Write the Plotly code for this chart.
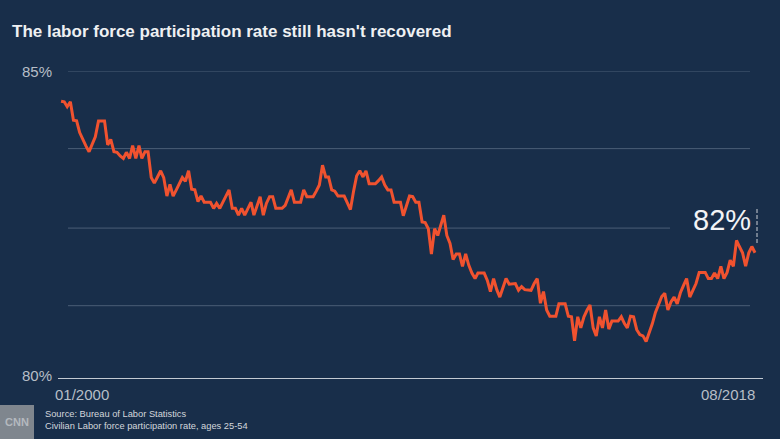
import plotly.graph_objects as go
import pandas as pd

# ---------------- data ----------------
dates = pd.date_range("2000-01-01", periods=224, freq="MS").strftime("%Y-%m-%d").tolist()

rate = [
    84.51, 84.50, 84.42, 84.50, 84.20, 84.19, 84.00, 83.88, 83.78, 83.69,
    83.82, 83.93, 84.19, 84.19, 84.19, 83.80, 83.89, 83.69, 83.68, 83.62,
    83.58, 83.68, 83.58, 83.79, 83.58, 83.79, 83.58, 83.69, 83.69, 83.27,
    83.18, 83.28, 83.38, 83.27, 82.97, 83.16, 82.97, 83.07, 83.17, 83.27,
    83.21, 83.38, 83.08, 83.07, 82.88, 82.97, 82.87, 82.87, 82.87, 82.77,
    82.85, 82.77, 82.87, 82.97, 83.07, 82.77, 82.77, 82.66, 82.77, 82.66,
    82.77, 82.87, 82.66, 82.80, 82.96, 82.66, 82.85, 82.96, 82.96, 82.77,
    82.77, 82.77, 82.82, 82.97, 83.07, 82.87, 82.87, 82.87, 83.07, 82.96,
    82.96, 82.96, 83.05, 83.15, 83.47, 83.28, 83.28, 83.07, 83.05, 82.97,
    82.97, 82.97, 82.86, 82.75, 83.05, 83.30, 83.38, 83.28, 83.38, 83.17,
    83.17, 83.17, 83.22, 83.28, 83.15, 83.07, 83.07, 82.87, 82.87, 82.87,
    82.65, 82.80, 82.97, 82.96, 82.87, 82.87, 82.55, 82.54, 82.44, 82.03,
    82.44, 82.33, 82.50, 82.66, 82.33, 82.20, 81.94, 82.03, 82.03, 81.83,
    82.03, 81.85, 81.72, 81.63, 81.72, 81.72, 81.72, 81.60, 81.42, 81.63,
    81.45, 81.33, 81.50, 81.63, 81.54, 81.54, 81.55, 81.44, 81.50, 81.45,
    81.44, 81.44, 81.55, 81.63, 81.23, 81.42, 81.12, 81.02, 81.02, 81.02,
    81.22, 81.22, 81.22, 81.02, 81.01, 80.62, 81.01, 80.83, 81.01, 81.12,
    81.20, 80.83, 80.70, 81.01, 80.83, 81.12, 80.81, 80.94, 80.94, 80.94,
    81.01, 80.90, 80.83, 81.02, 81.01, 80.80, 80.72, 80.70, 80.61, 80.75,
    80.90, 81.08, 81.22, 81.34, 81.39, 81.12, 81.25, 81.33, 81.22, 81.40,
    81.52, 81.63, 81.33, 81.45, 81.55, 81.73, 81.73, 81.73, 81.63, 81.63,
    81.72, 81.63, 81.83, 81.63, 81.73, 81.93, 81.83, 82.25, 82.15, 82.05,
    81.83, 82.05, 82.15, 82.05,
]

y_tick_labels = ["85%", "80%"]
x_tick_labels = ["01/2000", "08/2018"]
last_label = "82%"
grid_levels = [83.74, 82.45, 81.19]

# ---------------- styling helpers ----------------
BG = "#182e4a"
L, R, T, B = 58, 17, 71, 60
W, H = 780, 439
PW, PH = W - L - R, H - T - B


def px(p):
    return (p - L) / PW


def py(p):
    return (H - B - p) / PH


fig = go.Figure()
fig.add_trace(go.Scatter(
    x=dates, y=rate, mode="lines",
    line=dict(color="#f0522f", width=3),
    hoverinfo="skip", showlegend=False,
))

shapes = []
for i, g in enumerate(grid_levels):
    x1 = 670 if i == 1 else 750
    shapes.append(dict(type="line", xref="paper", yref="y",
                       x0=px(68), x1=px(x1), y0=g, y1=g,
                       line=dict(color="#4b5e76", width=1), layer="below"))
# top gridline (85%)
shapes.append(dict(type="line", xref="paper", yref="y",
                   x0=px(68), x1=px(750), y0=85, y1=85,
                   line=dict(color="#4b5e76", width=1), layer="below"))
# baseline
shapes.append(dict(type="line", xref="paper", yref="y",
                   x0=px(58), x1=px(763), y0=80, y1=80,
                   line=dict(color="#c3cad2", width=2)))
# dashed marker near last value
shapes.append(dict(type="line", xref="paper", yref="paper",
                   x0=px(757), x1=px(757), y0=py(209), y1=py(243),
                   line=dict(color="#c9ced4", width=1, dash="4px,2px")))
# logo box
shapes.append(dict(type="rect", xref="paper", yref="paper",
                   x0=px(0), x1=px(34), y0=py(439), y1=py(405),
                   fillcolor="#7f868e", line=dict(width=0)))

annotations = [
    dict(text=y_tick_labels[0], x=px(54), y=py(71), xanchor="right", yanchor="middle",
         font=dict(family="Liberation Sans, Arial", size=15, color="#b7bec7")),
    dict(text=y_tick_labels[1], x=px(54), y=py(375), xanchor="right", yanchor="middle",
         font=dict(family="Liberation Sans, Arial", size=15, color="#b7bec7")),
    dict(text=x_tick_labels[0], x=px(53), y=py(394.5), xanchor="left", yanchor="middle",
         font=dict(family="Liberation Sans, Arial", size=15, color="#b7bec7")),
    dict(text=x_tick_labels[1], x=px(757), y=py(394.5), xanchor="right", yanchor="middle",
         font=dict(family="Liberation Sans, Arial", size=15, color="#b7bec7")),
    dict(text=last_label, x=px(753), y=py(220), xanchor="right", yanchor="middle",
         font=dict(family="Liberation Sans, Arial", size=29, color="#f2f4f6")),
    dict(text="Source: Bureau of Labor Statistics<br>Civilian Labor force participation rate, ages 25-54",
         x=px(43), y=py(420), xanchor="left", yanchor="middle", align="left",
         font=dict(family="Liberation Sans, Arial", size=9.3, color="#d3d7dc")),
    dict(text="<b>CNN</b>", x=px(17), y=py(422), xanchor="center", yanchor="middle",
         font=dict(family="Liberation Sans, Arial", size=11, color="#b4b9bf")),
]
for a in annotations:
    a.update(xref="paper", yref="paper", showarrow=False)

fig.update_layout(
    width=W, height=H,
    margin=dict(l=L, r=R, t=T, b=B, pad=0),
    paper_bgcolor=BG, plot_bgcolor=BG,
    title=dict(text="<b>The labor force participation rate still hasn't recovered</b>",
               x=12 / W, xanchor="left", xref="container",
               y=1 - 31 / H, yanchor="middle", yref="container",
               font=dict(family="Liberation Sans, Arial", size=17, color="#eef0f2")),
    xaxis=dict(range=["1999-12-02", "2018-10-18"], visible=False, fixedrange=True),
    yaxis=dict(range=[80, 85], visible=False, fixedrange=True),
    shapes=shapes,
    annotations=annotations,
    showlegend=False,
)

fig.write_html("out.html")
